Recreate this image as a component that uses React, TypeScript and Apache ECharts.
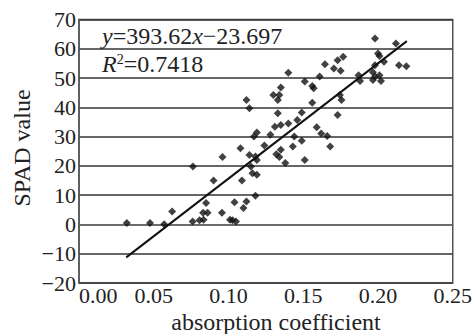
import React, { useEffect, useRef } from "react";
import * as echarts from "echarts";

const xValues = [
  0.032, 0.0475, 0.057, 0.0623, 0.0762, 0.076, 0.0806, 0.0833, 0.083, 0.085,
  0.086, 0.09, 0.096, 0.0956, 0.101, 0.1027, 0.105, 0.104, 0.108, 0.109,
  0.11, 0.112, 0.112, 0.114, 0.114, 0.115, 0.116, 0.117, 0.119, 0.118,
  0.119, 0.119, 0.118, 0.124, 0.128, 0.13, 0.133, 0.134, 0.135, 0.133,
  0.131, 0.135, 0.132, 0.135, 0.134, 0.138, 0.14, 0.14, 0.143, 0.144,
  0.146, 0.149, 0.149, 0.151, 0.151, 0.156, 0.157, 0.156, 0.159, 0.161,
  0.162, 0.1645, 0.166, 0.168, 0.1705, 0.173, 0.173, 0.175, 0.1767, 0.1745,
  0.1756, 0.187, 0.188, 0.198, 0.2, 0.201, 0.204, 0.1966, 0.198, 0.1966,
  0.201, 0.202, 0.198, 0.212, 0.214, 0.219,
];
const yValues = [
  0.5, 0.5, 0.1, 4.4, 19.8, 1, 1.4, 1.6, 4, 7.3,
  4, 15, 23, 4, 1.6, 1.4, 1, 7.6, 26, 15,
  5.6, 7.8, 42.5, 39.7, 23.7, 19.8, 17.5, 30, 31.4, 23.2,
  22, 17, 9.8, 27, 30.6, 44.2, 42.5, 44.2, 46.8, 38,
  33.4, 34, 24, 25.5, 23, 21, 51.8, 34.5, 26.6, 30,
  35.7, 38.2, 28.6, 22, 48.8, 47.3, 46.5, 41.6, 33.2, 50.5,
  31.1, 54.7, 30.2, 26.6, 53.3, 37.4, 56.1, 52.5, 57.3, 44.2,
  42.5, 51, 49, 63.5, 58.4, 57.5, 55.6, 52, 50.5, 49.3,
  51, 49, 54.4, 61.8, 54.4, 54,
];
const slope = 393.62;
const intercept = -23.697;
const fitRange = [0.0316, 0.2193];
const xTicks = [0, 0.25, 0.05];
const yTicks = [-20, 70, 10];

const serif = "'Liberation Serif', 'DejaVu Serif', serif";

export default function App() {
  const ref = useRef<HTMLDivElement>(null);
  useEffect(() => {
    if (!ref.current) return;
    const chart = echarts.init(ref.current, null, { renderer: "svg" });
    const points = xValues.map((x, i) => [x, yValues[i]]);
    const fit = fitRange.map((x) => [x, slope * x + intercept]);
    const gridColors = ["#333", "#333", "#999", "#333", "#333", "#333", "#333", "#333", "#333", "#333"];
    chart.setOption({
      animation: false,
      backgroundColor: "#fff",
      grid: {
        left: 79,
        right: 19,
        top: 19.5,
        bottom: 51,
        show: true,
        borderColor: "#555",
        borderWidth: 1.5,
      },
      xAxis: {
        type: "value",
        min: xTicks[0],
        max: xTicks[1],
        interval: xTicks[2],
        axisLine: { show: true, lineStyle: { color: "#555", width: 1.5 } },
        axisTick: { show: false },
        splitLine: { show: false },
        axisLabel: {
          color: "#222",
          fontFamily: serif,
          fontSize: 22,
          margin: 1,
          alignMinLabel: "left",
          formatter: (v: number) => v.toFixed(2),
        },
      },
      yAxis: {
        type: "value",
        min: yTicks[0],
        max: yTicks[1],
        interval: yTicks[2],
        axisLine: { show: true, lineStyle: { color: "#555", width: 1.5 } },
        axisTick: { show: false },
        splitLine: { show: true, lineStyle: { color: gridColors, width: 1.5 } },
        axisLabel: {
          color: "#222",
          fontFamily: serif,
          fontSize: 22,
          margin: 3,
          formatter: (v: number) => (v < 0 ? "\u2212" + Math.abs(v) : String(v)),
        },
      },
      graphic: [
        {
          type: "text",
          left: 102,
          top: 24,
          style: {
            text: "{i|y}{n|=393.62}{i|x}{n|\u221223.697}",
            rich: {
              i: { fontFamily: serif, fontSize: 24, fontStyle: "italic", fill: "#222" },
              n: { fontFamily: serif, fontSize: 24, fill: "#222" },
            },
          },
        },
        {
          type: "text",
          left: 102,
          top: 52,
          style: {
            text: "{i|R}{s|2}{n|=0.7418}",
            rich: {
              i: { fontFamily: serif, fontSize: 24, fontStyle: "italic", fill: "#222" },
              s: { fontFamily: serif, fontSize: 14, fill: "#222", verticalAlign: "top", padding: [0, 0, 10, 0] },
              n: { fontFamily: serif, fontSize: 24, fill: "#222" },
            },
          },
        },
        {
          type: "text",
          x: 276,
          y: 322,
          style: {
            text: "absorption coefficient",
            fontFamily: serif,
            fontSize: 24,
            fill: "#222",
            align: "center",
            verticalAlign: "middle",
          },
        },
        {
          type: "text",
          x: 22,
          y: 148,
          rotation: Math.PI / 2,
          style: {
            text: "SPAD value",
            fontFamily: serif,
            fontSize: 24,
            fill: "#222",
            align: "center",
            verticalAlign: "middle",
          },
        },
      ],
      series: [
        {
          type: "line",
          data: fit,
          symbol: "none",
          lineStyle: { color: "#111", width: 2 },
          z: 3,
        },
        {
          type: "scatter",
          data: points,
          symbol: "diamond",
          symbolSize: 8,
          itemStyle: { color: "#111" },
          z: 4,
        },
      ],
    });
    return () => chart.dispose();
  }, []);
  return <div ref={ref} style={{ width: 475, height: 334, position: "absolute", left: 0, top: 0 }} />;
}
